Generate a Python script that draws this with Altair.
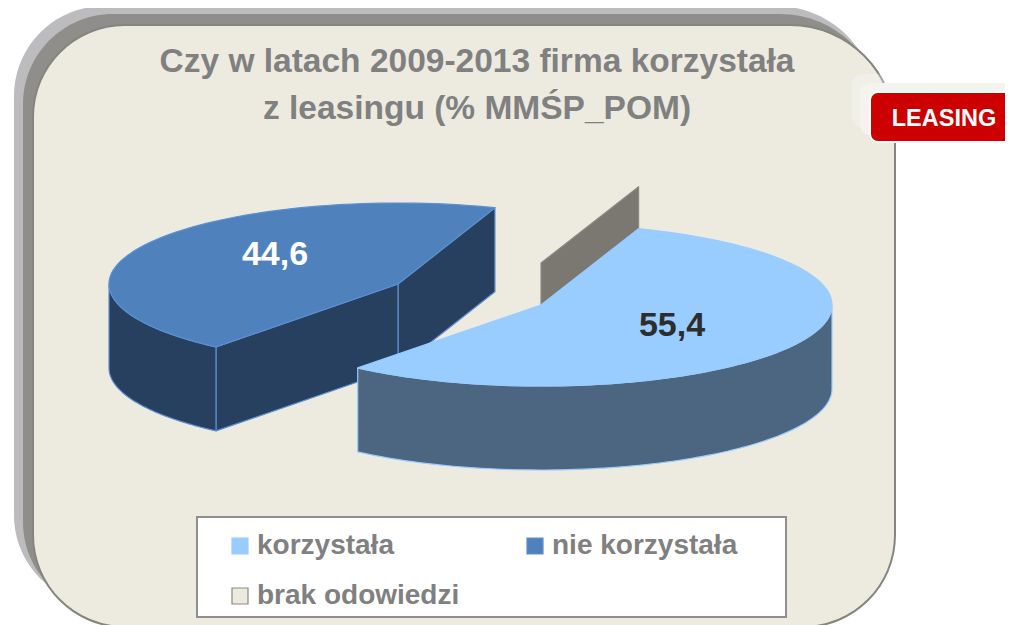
import math
import altair as alt
import pandas as pd

# ---- chart content ----
categories = ["korzystała", "nie korzystała", "brak odowiedzi"]
values = [55.4, 44.6, 0.0]
value_labels = ["55,4", "44,6"]
title_lines = ["Czy w latach 2009-2013 firma korzystała", "z leasingu (% MMŚP_POM)"]
badge_text = "LEASING"

top_colors = ["#99ccff", "#4f81bd", "#ece9df"]
edge_colors = ["#99ccff", "#5b8fd0", "#8a8a85"]
side_colors = ["#4c6580", "#274060", "#7a7870"]

FONT = "Liberation Sans"
W, H = 997, 617
X = alt.Scale(domain=[8, 1005], nice=False, zero=False)
Y = alt.Scale(domain=[625, 8], nice=False, zero=False)

# ---- pie projection ----
START = 70.4          # degrees, the pie runs clockwise from here
DEPTH = 84
LIGHT = dict(cx=541, cy=305, a=291, b=81)
DARK = dict(cx=398, cy=284, a=289, b=81)


def pt(g, t, drop=0):
    r = math.radians(t)
    return (g["cx"] + g["a"] * math.cos(r), g["cy"] - g["b"] * math.sin(r) + drop)


def arc(g, t0, t1, drop=0, n=90):
    return [pt(g, t0 + (t1 - t0) * i / n, drop) for i in range(n + 1)]


end1 = START - values[0] / sum(values) * 360
end2 = end1 - values[1] / sum(values) * 360


def enc_xy():
    return dict(
        x=alt.X("x:Q", scale=X, axis=None),
        y=alt.Y("y:Q", scale=Y, axis=None),
        order="i:O",
    )


def frame(points, **extra):
    pts = list(points) + [points[0]]
    return pd.DataFrame([dict(i=i, x=p[0], y=p[1], **extra) for i, p in enumerate(pts)])


def wall(points, fill, stroke):
    return alt.Chart(frame(points)).mark_line(
        fill=fill, stroke=stroke, strokeWidth=1.2, strokeJoin="round"
    ).encode(**enc_xy())


# legend entries flow down the columns, so the scale order is 0, 2, 1
legend_order = [0, 2, 1]
fill_scale = alt.Scale(domain=[categories[i] for i in legend_order], range=[top_colors[i] for i in legend_order])
stroke_scale = alt.Scale(domain=[categories[i] for i in legend_order], range=[edge_colors[i] for i in legend_order])
legend = alt.Legend(
    title=None, orient="none", legendX=218, legendY=524, columns=2,
    symbolType="square", symbolSize=256, symbolStrokeWidth=1.2, symbolOpacity=1,
    labelFont=FONT, labelFontSize=28, labelFontWeight="bold", labelColor="#808080",
    labelOffset=3, labelLimit=400, columnPadding=61, rowPadding=22, padding=0,
)


def top(points, cat):
    return alt.Chart(frame(points, cat=cat)).mark_line(strokeWidth=1.2, strokeJoin="round").encode(
        fill=alt.Fill("cat:N", scale=fill_scale, legend=legend),
        stroke=alt.Stroke("cat:N", scale=stroke_scale, legend=legend),
        **enc_xy(),
    )


def box(x0, x1, y0, y1, fill, radius=0, stroke=None, sw=0, opacity=1.0, top_right=None):
    kw = dict(fill=fill, cornerRadius=radius, opacity=opacity)
    if top_right is not None:
        kw.update(cornerRadiusTopRight=top_right)
    if stroke:
        kw.update(stroke=stroke, strokeWidth=sw)
    return alt.Chart(pd.DataFrame([dict(a=x0, b=x1, c=y0, d=y1)])).mark_rect(**kw).encode(
        x=alt.X("a:Q", scale=X, axis=None), x2="b:Q",
        y=alt.Y("c:Q", scale=Y, axis=None), y2="d:Q",
    )


def label(text, x, y, size, color):
    return alt.Chart(pd.DataFrame([dict(t=text, x=x, y=y)])).mark_text(
        font=FONT, fontWeight="bold", fontSize=size, color=color, baseline="middle", align="center"
    ).encode(x=alt.X("x:Q", scale=X, axis=None), y=alt.Y("y:Q", scale=Y, axis=None), text="t:N")


layers = [
    box(14, 876, 6, 605, "#bcbcbf", 90, top_right=100),
    box(23, 882, 14, 612, "#8f8e8a", 90, top_right=102),
    box(33, 895, 25, 627, "#edebe0", 92, "#85857f", 2, top_right=105),
    box(852, 888, 74, 127, "#ffffff", 10, opacity=0.25),
    box(860, 1030, 83, 135, "#f4f3ee", 10),
    box(870, 1030, 92, 142, "#cc0000", 8, "#ffffff", 2),
    label(badge_text, 944, 119, 23.5, "#ffffff"),
]

# dark slice
apex = (DARK["cx"], DARK["cy"])
p_r, p_l = pt(DARK, START), pt(DARK, end1)
layers += [
    wall([apex, p_r, (p_r[0], p_r[1] + DEPTH), (apex[0], apex[1] + DEPTH)], side_colors[1], edge_colors[1]),
    wall([p_l, apex, (apex[0], apex[1] + DEPTH), (p_l[0], p_l[1] + DEPTH)], side_colors[1], edge_colors[1]),
    wall(arc(DARK, 180, 360 + end1) + arc(DARK, 360 + end1, 180, DEPTH), side_colors[1], edge_colors[1]),
    top([apex] + arc(DARK, end1, end2), categories[1]),
]

# zero slice wall
apexL = (LIGHT["cx"], LIGHT["cy"])
q = pt(LIGHT, START)
layers.append(wall([apexL, q, (q[0], q[1] - 42), (apexL[0], apexL[1] - 42)], side_colors[2], "#8a8a85"))
layers.append(top([apexL, q], categories[2]))

# light slice
layers += [
    wall(arc(LIGHT, end1, 0) + arc(LIGHT, 0, end1, DEPTH), side_colors[0], edge_colors[0]),
    top([apexL] + arc(LIGHT, START, end1), categories[0]),
]

# legend box sits under the legend, data labels on the pie
layers += [
    box(197, 786, 517, 617, "#ffffff", 0, "#8f8f8f", 2),
    label(value_labels[1], 275, 255, 34, "#ffffff"),
    label(value_labels[0], 672, 326, 34, "#2d2d2d"),
]

chart = alt.layer(*layers).resolve_scale(fill="shared", stroke="shared").properties(
    width=W, height=H, padding=0, autosize=alt.AutoSizeParams(type="none"),
    background="#ffffff",
    title=alt.TitleParams(
        text=title_lines, font=FONT, fontSize=33.5, fontWeight="bold", color="#808080",
        lineHeight=47, anchor="middle", dx=-29.5, dy=124,
    ),
).configure_view(stroke=None)

chart.save("out.html", embed_options={"renderer": "svg", "actions": False})
